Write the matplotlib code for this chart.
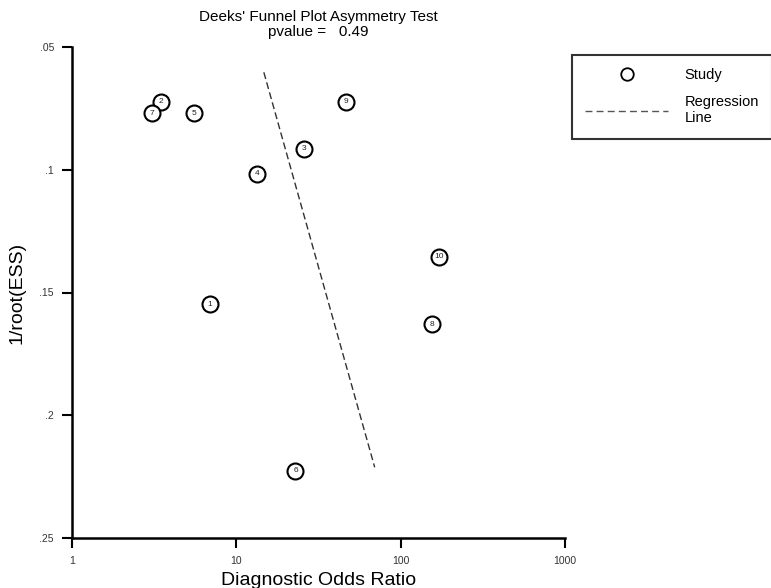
import numpy as np
import matplotlib
matplotlib.use('Agg')
import matplotlib.pyplot as plt
from matplotlib.lines import Line2D

plt.rcParams['font.family'] = ['Liberation Sans', 'DejaVu Sans']

# %% Data
study_ids = ['1', '2', '3', '4', '5', '6', '7', '8', '9', '10']
dor = [6.9, 3.48, 25.8, 13.45, 5.49, 22.9, 3.06, 156, 46.3, 171]  # diagnostic odds ratio
inv_root_ess = [0.1547, 0.0723, 0.0914, 0.1017, 0.0770, 0.2226, 0.0769, 0.1630, 0.0724, 0.1354]

reg_x = [14.7, 69.5]  # regression line end points
reg_y = [0.0603, 0.2212]

x_ticks = [1, 10, 100, 1000]
x_tick_labels = ['1', '10', '100', '1000']
y_ticks = [0.05, 0.1, 0.15, 0.2, 0.25]
y_tick_labels = ['.05', '.1', '.15', '.2', '.25']

# %% Figure
fig = plt.figure(figsize=(7.71, 5.88), dpi=100)
ax = fig.add_axes([72 / 771, 1 - 538 / 588, (565 - 72) / 771, (538 - 47) / 588])

ax.plot(reg_x, reg_y, color='#333333', lw=1.0, ls=(0, (5, 2.5)), zorder=2)
ax.plot(dor, inv_root_ess, ls='none', marker='o', ms=11.5, mfc='white',
        mec='black', mew=1.5, zorder=3, clip_on=False)
for sid, xv, yv in zip(study_ids, dor, inv_root_ess):
    ax.text(xv, yv, sid, fontsize=6, ha='center', va='center', color='#222222', zorder=4)

ax.set_xscale('log')
ax.set_xlim(1, 1000)
ax.set_ylim(0.25, 0.05)
ax.set_xticks(x_ticks)
ax.set_xticklabels(x_tick_labels)
ax.set_yticks(y_ticks)
ax.set_yticklabels(y_tick_labels)
ax.minorticks_off()
ax.tick_params(axis='both', length=7, width=1.5, labelsize=7.5, labelcolor='#333333', pad=6)

for side in ['top', 'right']:
    ax.spines[side].set_visible(False)
for side in ['left', 'bottom']:
    ax.spines[side].set_linewidth(1.8)

ax.set_xlabel('Diagnostic Odds Ratio', fontsize=14, labelpad=4)
ax.set_ylabel('1/root(ESS)', fontsize=14, labelpad=10)
ax.set_title("Deeks' Funnel Plot Asymmetry Test\npvalue =   0.49", fontsize=11,
             linespacing=1.05, pad=8)

handles = [Line2D([], [], ls='none', marker='o', ms=9, mfc='white', mec='black', mew=1.3),
           Line2D([], [], color='#555555', lw=1.0, ls=(0, (5, 3)))]
leg = fig.legend(handles, ['Study', 'Regression\nLine'], loc='upper left',
                 bbox_to_anchor=(572 / 771, 1 - 55 / 588), fontsize=10.5,
                 frameon=True, fancybox=False, handlelength=5.7, handletextpad=1.1,
                 borderpad=0.9, labelspacing=0.9, borderaxespad=0)
leg.get_frame().set_edgecolor('black')
leg.get_frame().set_linewidth(1.5)

fig.savefig('out.png', dpi=100)
